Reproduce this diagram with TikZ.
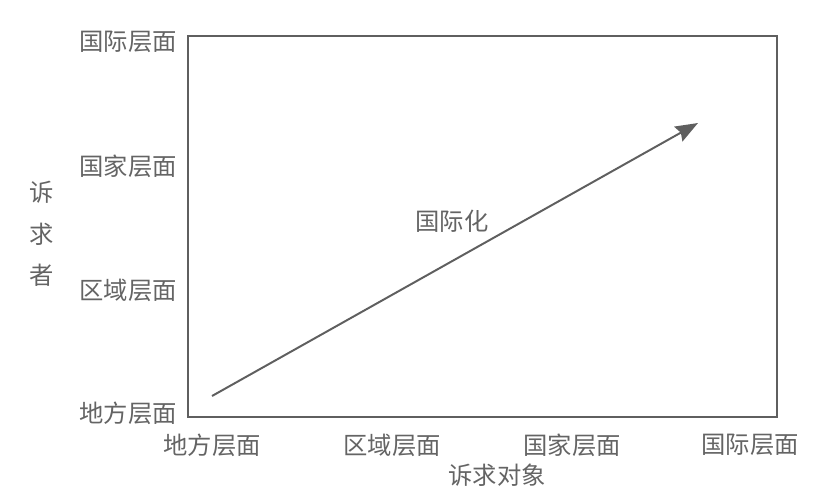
\documentclass[tikz,border=0pt]{standalone}
\usepackage{fontspec}
\setmainfont{Noto Sans CJK SC}
\usepackage{tikz}
\usetikzlibrary{arrows.meta,positioning}
\usepackage{xcolor}
\definecolor{dfgray}{RGB}{95,95,95}
\definecolor{dftext}{RGB}{100,100,100}
\tikzstyle{lbl} = [text=dftext, font=\fontsize{17.3}{19}\selectfont, inner sep=0pt]
\tikzstyle{arrow} = [line width=1.4pt,-{Stealth[length=16pt,width=12pt,inset=2pt]},color=dfgray]

\begin{document}
\begin{tikzpicture}[x=0.025cm, y=-0.025cm]
\useasboundingbox (0,0) rectangle (822,502);
% frame
\draw[line width=1.4pt, dfgray] (188,36) rectangle (777,417);

% vertical axis labels
\node[lbl, anchor=east] (yint) at (177,42) {国际层面};
\node[lbl, anchor=east] (ynat) at (177,166) {国家层面};
\node[lbl, anchor=east] (yreg) at (177,290) {区域层面};
\node[lbl, anchor=east] (yloc) at (177,413) {地方层面};
\node[lbl, align=center, font=\fontsize{17.3}{29.5}\selectfont] (ytitle) at (42,234) {诉\\求\\者};

% horizontal axis labels
\node[lbl] (xloc) at (212,445) {地方层面};
\node[lbl] (xreg) at (392,445) {区域层面};
\node[lbl] (xnat) at (572,445) {国家层面};
\node[lbl] (xint) at (750,445) {国际层面};
\node[lbl] (xtitle) at (497,475) {诉求对象};

% trend
\coordinate (start) at (212,396);
\coordinate (end) at (698,123);
\draw[arrow] (start) -- (end);
\node[lbl] (trend) at (452,221) {国际化};
\end{tikzpicture}
\end{document}
